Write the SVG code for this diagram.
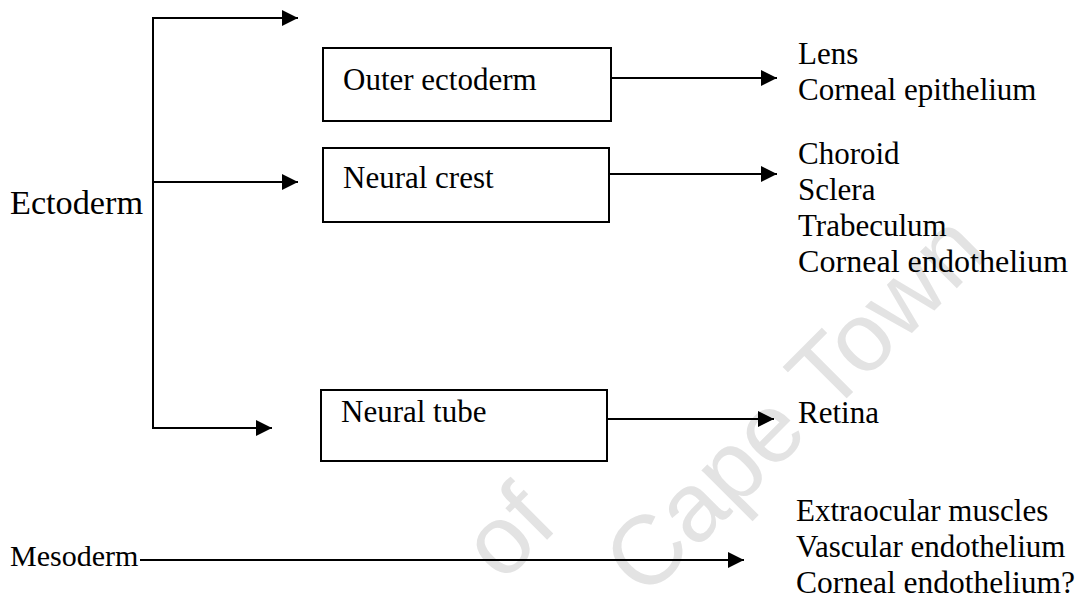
<svg xmlns="http://www.w3.org/2000/svg" width="1082" height="603" viewBox="0 0 1082 603">
<style>
.t{font-family:"Liberation Serif","Times New Roman",serif;font-size:31px;fill:#000}
.box{fill:#fff;stroke:#000;stroke-width:2}
.ln{fill:none;stroke:#000;stroke-width:2}
.wm{font-family:"Liberation Sans",Arial,sans-serif;font-size:98px;fill:#e3e3e3}
</style>
<defs>
<marker id="ah" viewBox="0 0 16 16" refX="16" refY="8" markerWidth="16" markerHeight="16" markerUnits="userSpaceOnUse" orient="auto">
<path d="M0,0 L16,8 L0,16 z" fill="#000"/>
</marker>
</defs>
<rect width="1082" height="603" fill="#fff"/>
<g id="watermark" transform="translate(645,600) rotate(-45)">
<text class="wm" x="0" y="0">Cape Town</text>
<text class="wm" x="-8" y="-112" text-anchor="end">of</text>
</g>
<g id="connectors">
<line class="ln" x1="153" y1="17" x2="153" y2="429"/>
<line class="ln" x1="152" y1="18" x2="298" y2="18" marker-end="url(#ah)"/>
<line class="ln" x1="153" y1="182" x2="298" y2="182" marker-end="url(#ah)"/>
<line class="ln" x1="152" y1="428" x2="272" y2="428" marker-end="url(#ah)"/>
<line class="ln" x1="611" y1="78" x2="777" y2="78" marker-end="url(#ah)"/>
<line class="ln" x1="609" y1="174" x2="777" y2="174" marker-end="url(#ah)"/>
<line class="ln" x1="607" y1="419" x2="774" y2="419" marker-end="url(#ah)"/>
<line class="ln" x1="140" y1="560" x2="744" y2="560" marker-end="url(#ah)"/>
</g>
<g id="ectoderm"><text class="t" x="10" y="214" style="font-size:33px" textLength="133" lengthAdjust="spacingAndGlyphs">Ectoderm</text></g>
<g id="mesoderm"><text class="t" x="10" y="566" style="font-size:30px">Mesoderm</text></g>
<g id="outer-ectoderm">
<rect class="box" x="323" y="48" width="288" height="73"/>
<text class="t" x="343" y="90">Outer ectoderm</text>
</g>
<g id="neural-crest">
<rect class="box" x="323" y="148" width="286" height="74"/>
<text class="t" x="343" y="188">Neural crest</text>
</g>
<g id="neural-tube">
<rect class="box" x="321" y="390" width="286" height="71"/>
<text class="t" x="341" y="422">Neural tube</text>
</g>
<g id="outer-products">
<text class="t" x="798" y="64">Lens</text>
<text class="t" x="798" y="100">Corneal epithelium</text>
</g>
<g id="crest-products">
<text class="t" x="798" y="164">Choroid</text>
<text class="t" x="798" y="200">Sclera</text>
<text class="t" x="798" y="236">Trabeculum</text>
<text class="t" x="798" y="272" textLength="270" lengthAdjust="spacingAndGlyphs">Corneal endothelium</text>
</g>
<g id="tube-products">
<text class="t" x="798" y="423">Retina</text>
</g>
<g id="meso-products">
<text class="t" x="796" y="521">Extraocular muscles</text>
<text class="t" x="796" y="557">Vascular endothelium</text>
<text class="t" x="796" y="593" textLength="279" lengthAdjust="spacingAndGlyphs">Corneal endothelium?</text>
</g>
</svg>
